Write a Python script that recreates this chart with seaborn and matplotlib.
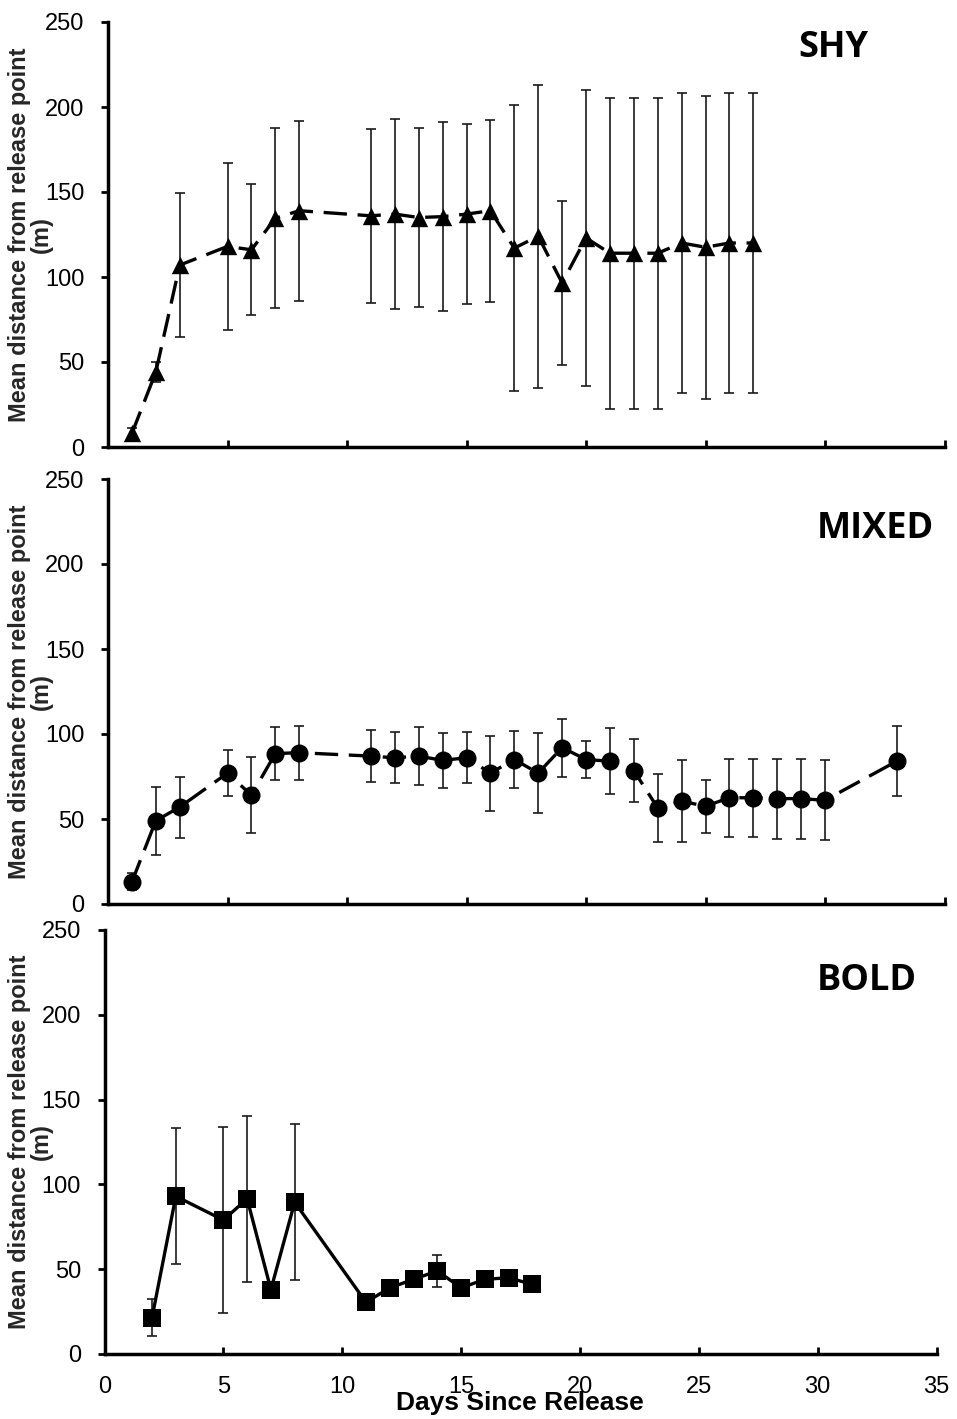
import numpy as np
import pandas as pd
import matplotlib
matplotlib.use("Agg")
import matplotlib.pyplot as plt
import seaborn as sns

# ---------------- data ----------------
shy_days = [1, 2, 3, 5, 6, 7, 8, 11, 12, 13, 14, 15, 16, 17, 18, 19, 20, 21, 22, 23, 24, 25, 26, 27]
shy_mean = [8, 44, 107, 118, 116, 134.5, 139, 136, 137, 135, 135.5, 137, 139, 117, 124, 96.5,
            123, 114, 114, 114, 120, 117.5, 120, 120]
shy_err = [3, 6, 42.5, 49, 38.5, 53, 53, 51, 56, 52.5, 55.5, 53, 53.5, 84, 89, 48.5,
           87, 91.5, 91.5, 91.5, 88, 89, 88, 88]

mixed_days = [1, 2, 3, 5, 6, 7, 8, 11, 12, 13, 14, 15, 16, 17, 18, 19, 20, 21, 22, 23, 24, 25,
              26, 27, 28, 29, 30, 33]
mixed_mean = [13, 49, 57, 77, 64, 88.5, 89, 87, 86, 87, 84.5, 86, 77, 85, 77, 92, 85, 84, 78.5,
              56.5, 60.5, 57.5, 62.5, 62.5, 62, 62, 61, 84]
mixed_err = [5, 20, 18, 13.5, 22.5, 15.5, 16, 15.5, 15, 17, 16, 15, 22, 16.5, 23.5, 17, 11, 19.5,
             18.7, 20, 24, 15.5, 23, 23, 23.5, 23.5, 23.5, 20.7]

bold_days = [2, 3, 5, 6, 7, 8, 11, 12, 13, 14, 15, 16, 17, 18]
bold_mean = [21.5, 93, 79, 91.5, 38, 89.5, 30.5, 39, 44, 49, 39, 44, 45, 41]
bold_err = [11, 40, 55, 49, 3, 46, 3, 3, 3, 9.5, 3, 3, 3, 3]

group_names = ["SHY", "MIXED", "BOLD"]
y_ticks = [0, 50, 100, 150, 200, 250]
x_ticks = [0, 5, 10, 15, 20, 25, 30, 35]
y_label = "Mean distance from release point\n(m)"
x_label = "Days Since Release"

# ---------------- style ----------------
sns.set_theme(style="white")
plt.rcParams["font.family"] = ["Liberation Sans", "DejaVu Sans"]

W, H = 957, 1419
fig = plt.figure(figsize=(W / 100, H / 100), dpi=100)
fig.patch.set_facecolor("white")

# axes rectangles in pixels: (left, top, right, bottom)
rects = [(108, 22, 944.5, 447), (108, 479, 944.5, 904), (104.5, 930, 936.5, 1354)]

panels = [
    (shy_days, shy_mean, shy_err, "^", 12.5, (0, (7, 3.2))),
    (mixed_days, mixed_mean, mixed_err, "o", 13, (0, (7, 3.2))),
    (bold_days, bold_mean, bold_err, "s", 13, "-"),
]
title_pos = [(798, 57), (817, 538), (817, 990)]

for i, ((l, t, r, b), (d, m, e, mk, ms, ls)) in enumerate(zip(rects, panels)):
    ax = fig.add_axes([l / W, 1 - b / H, (r - l) / W, (b - t) / H])
    ax.set_facecolor("white")
    df = pd.DataFrame({"day": d, "mean": m, "err": e})

    ax.errorbar(df["day"], df["mean"], yerr=df["err"], fmt="none", ecolor="#1a1a1a",
                elinewidth=1.2, capsize=3.6, capthick=1.2, zorder=2)
    sns.lineplot(data=df, x="day", y="mean", ax=ax, sort=False, estimator=None,
                 color="black", linewidth=2.4, linestyle=ls, zorder=3)
    sns.scatterplot(data=df, x="day", y="mean", ax=ax, marker=mk, s=ms ** 2,
                    color="black", edgecolor="black", linewidth=0, zorder=4)

    ax.set_xlim(0, 35)
    ax.set_ylim(0, 250)
    ax.set_xticks(x_ticks)
    ax.set_yticks(y_ticks)
    for side in ["top", "right"]:
        ax.spines[side].set_visible(False)
    for side in ["left", "bottom"]:
        ax.spines[side].set_color("black")
        ax.spines[side].set_linewidth(2.5)
    ax.tick_params(axis="y", direction="out", length=5, width=2, color="black",
                   labelsize=17, pad=12, labelcolor="black", left=True)
    ax.tick_params(axis="x", direction="in", length=5, width=2, color="black",
                   labelsize=17, pad=16, labelcolor="black", bottom=True)
    if i < 2:
        ax.tick_params(axis="x", labelbottom=False)
    ax.set_xlabel("")
    ax.set_ylabel(y_label, fontsize=17, fontweight="bold", linespacing=0.92)
    ax.yaxis.set_label_coords((53 - l) / (r - l), 0.5)

    tx, ty = title_pos[i]
    fig.text(tx / W, 1 - ty / H, group_names[i], fontsize=26, fontweight="bold",
             family=["Open Sans", "DejaVu Sans"], ha="left", va="baseline", color="black")

fig.text(520 / W, 1 - 1410 / H, x_label, fontsize=19, fontweight="bold",
         ha="center", va="baseline", color="black")

fig.savefig("out.png", dpi=100, facecolor="white")
